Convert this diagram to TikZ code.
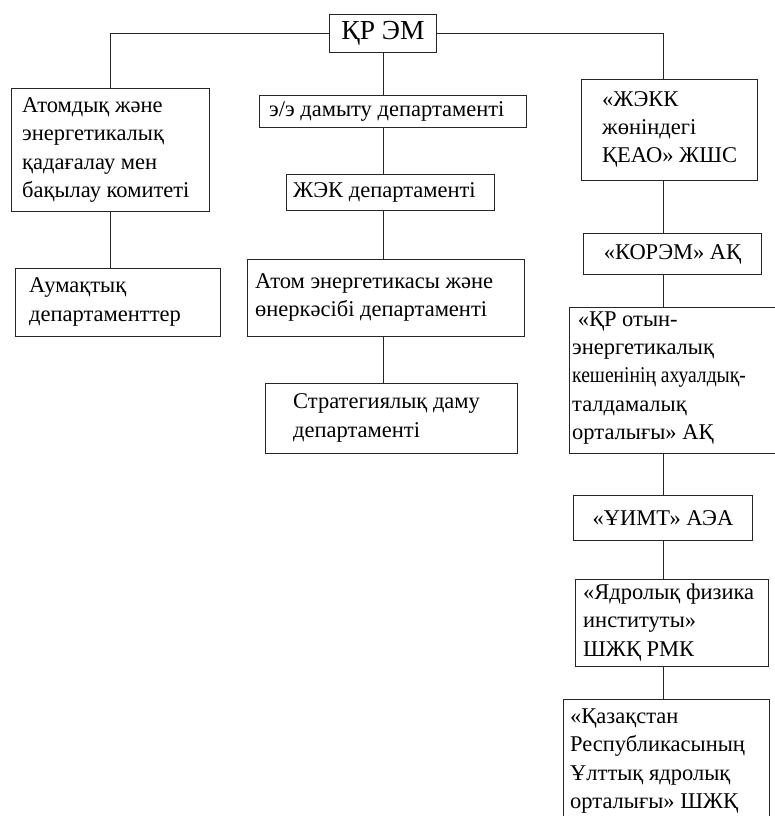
\documentclass[tikz,border=0pt]{standalone}
\usepackage{fontspec}
\usepackage{graphicx}
\setmainfont{Liberation Serif}
\begin{document}
\begin{tikzpicture}[x=1pt,y=-1pt,
  box/.style={draw=black!85, line width=1pt, anchor=north west, inner sep=0pt},
  txt/.style={anchor=west, align=left, inner sep=0pt, font=\fontsize{22.5}{28.3}\selectfont},
  ctxt/.style={txt, anchor=center, align=center},
  conn/.style={draw=black!85, line width=1pt}]
\clip (0,0) rectangle (775,816);
\fill[white] (0,0) rectangle (775,816);
% boxes
\node[box, minimum width=107pt, minimum height=38pt] (kr) at (329,14) {};
\node[box, minimum width=198pt, minimum height=123pt] (atom) at (11,88) {};
\node[box, minimum width=267pt, minimum height=32pt] (ee) at (259,95) {};
\node[box, minimum width=208pt, minimum height=36pt] (jek) at (286,174) {};
\node[box, minimum width=176pt, minimum height=101pt] (jekk) at (581,79) {};
\node[box, minimum width=205pt, minimum height=68pt] (aum) at (15,268) {};
\node[box, minimum width=277pt, minimum height=77pt] (atomen) at (247,259) {};
\node[box, minimum width=252pt, minimum height=70pt] (strat) at (265,383) {};
\node[box, minimum width=178pt, minimum height=41pt] (korem) at (583,233) {};
\node[box, minimum width=240pt, minimum height=146pt] (kr2) at (569,307) {};
\node[box, minimum width=179pt, minimum height=45pt] (uimt) at (573,495) {};
\node[box, minimum width=193pt, minimum height=87pt] (yadro) at (575,579) {};
\node[box, minimum width=206pt, minimum height=125pt] (kaz) at (563,699) {};
% texts
\node[ctxt, font=\fontsize{27.5}{30}\selectfont] (kr-t) at (kr.center) {ҚР ЭМ};
\node[txt] (atom-t) at (22,150) {Атомдық және\\энергетикалық\\қадағалау мен\\бақылау комитеті};
\node[txt] (ee-t) at (269,111) {э/э дамыту департаменті};
\node[txt] (jek-t) at (293,192) {ЖЭК департаменті};
\node[txt] (jekk-t) at (602,129.5) {«ЖЭКК\\жөніндегі\\ҚЕАО» ЖШС};
\node[txt] (aum-t) at (29,302) {Аумақтық\\департаменттер};
\node[txt] (atomen-t) at (255,297.5) {Атом энергетикасы және\\өнеркәсібі департаменті};
\node[txt] (strat-t) at (293,418) {Стратегиялық даму\\департаменті};
\node[ctxt] (korem-t) at (korem.center) {«КОРЭМ» АҚ};
\node[txt] (kr2-t) at (572,378) {\ «ҚР отын-\\энергетикалық\\\scalebox{0.87}[1]{кешенінің ахуалдық-}\\талдамалық\\орталығы» АҚ};
\node[ctxt] (uimt-t) at (uimt.center) {«ҰИМТ» АЭА};
\node[txt] (yadro-t) at (583,622.5) {«Ядролық физика\\институты»\\ШЖҚ РМК};
\node[txt] (kaz-t) at (570,761) {«Қазақстан\\Республикасының\\Ұлттық ядролық\\орталығы» ШЖҚ};
% spines
\coordinate (spine) at (383,0);
\coordinate (rspine) at (663,0);
% connectors
\draw[conn] (kr.west) -| (atom.north);
\draw[conn] (kr.east) -| (rspine |- jekk.north);
\draw[conn] (spine |- kr.south) -- (spine |- ee.north);
\draw[conn] (spine |- ee.south) -- (spine |- jek.north);
\draw[conn] (spine |- jek.south) -- (spine |- atomen.north);
\draw[conn] (spine |- atomen.south) -- (spine |- strat.north);
\draw[conn] (atom.south) -- (atom.south |- aum.north);
\draw[conn] (rspine |- jekk.south) -- (rspine |- korem.north);
\draw[conn] (rspine |- korem.south) -- (rspine |- kr2.north);
\draw[conn] (rspine |- kr2.south) -- (rspine |- uimt.north);
\draw[conn] (rspine |- uimt.south) -- (rspine |- yadro.north);
\draw[conn] (rspine |- yadro.south) -- (rspine |- kaz.north);
\end{tikzpicture}
\end{document}
